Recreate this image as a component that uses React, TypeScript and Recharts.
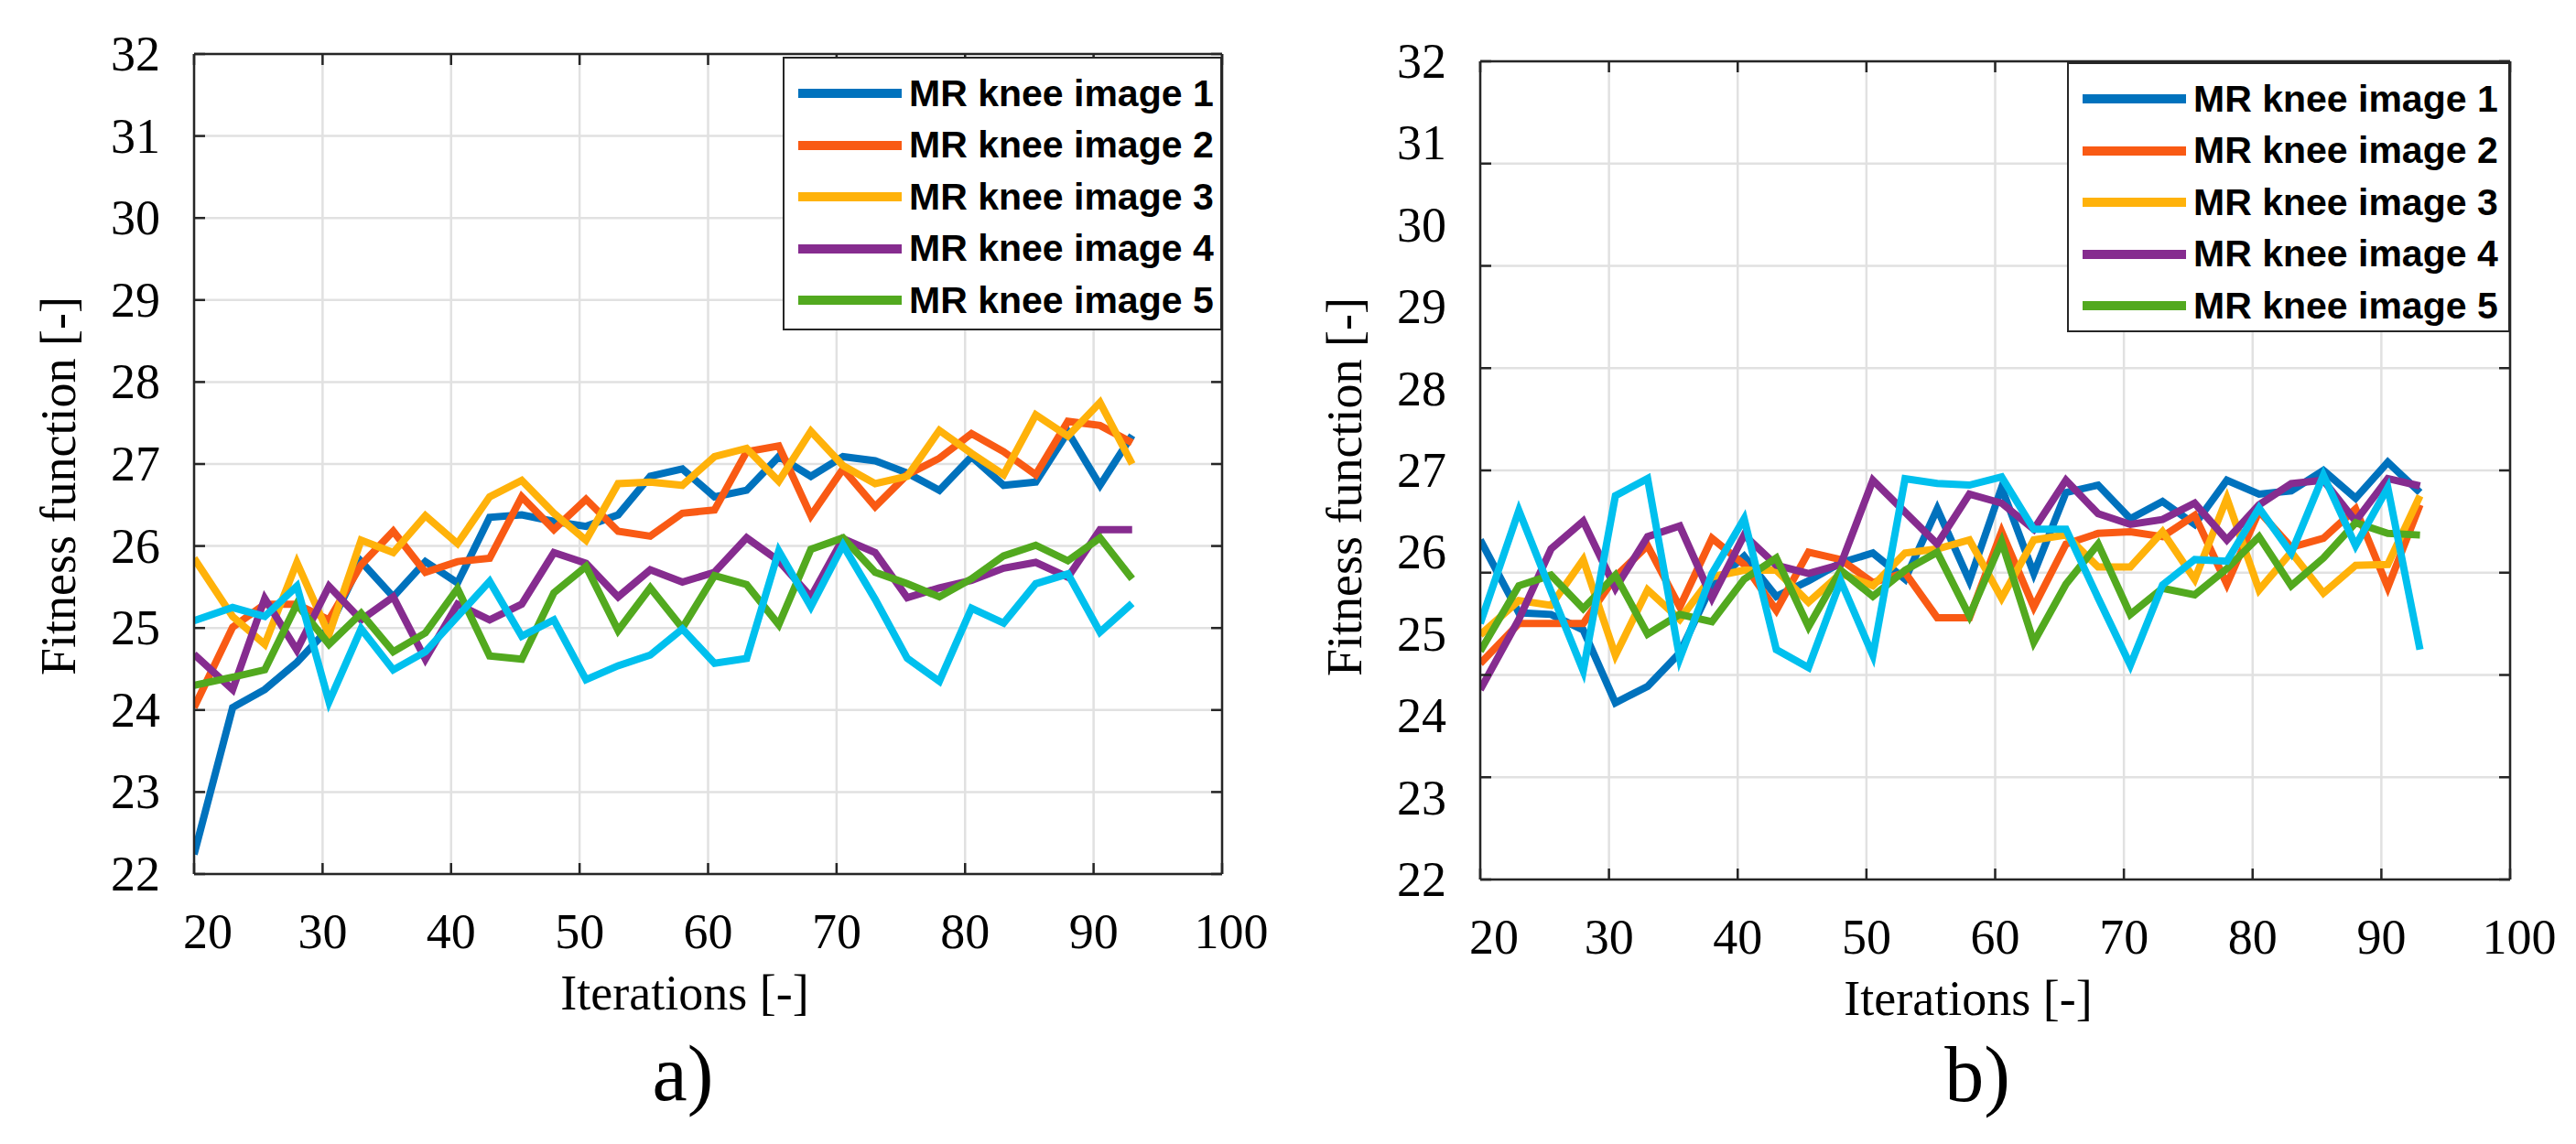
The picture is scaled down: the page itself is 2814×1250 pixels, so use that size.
import React from 'react';
import { LineChart, Line, XAxis, YAxis, CartesianGrid, Legend } from 'recharts';

const iterations = [20, 23, 25.5, 28, 30.5, 33, 35.5, 38, 40.5, 43, 45.5, 48, 50.5, 53, 55.5, 58, 60.5, 63, 65.5, 68, 70.5, 73, 75.5, 78, 80.5, 83, 85.5, 88, 90.5, 93];

const seriesNames = ['MR knee image 1', 'MR knee image 2', 'MR knee image 3', 'MR knee image 4', 'MR knee image 5', 'MR knee image 6'];
const seriesColors = ['#0072BD', '#F95A14', '#FFB20A', '#862C8F', '#52A91F', '#00C0EE'];
// the sixth (cyan) run is not listed in the legend
const legendNames = seriesNames.slice(0, 5);

// panel a)
const a1 = [22.24, 24.03, 24.25, 24.58, 25.0, 25.81, 25.38, 25.81, 25.55, 26.35, 26.38, 26.3, 26.24, 26.38, 26.85, 26.94, 26.6, 26.68, 27.09, 26.85, 27.09, 27.04, 26.89, 26.68, 27.09, 26.74, 26.78, 27.39, 26.74, 27.35];
const a2 = [24.03, 25.01, 25.29, 25.29, 25.1, 25.77, 26.18, 25.68, 25.81, 25.85, 26.6, 26.2, 26.57, 26.18, 26.12, 26.4, 26.44, 27.15, 27.22, 26.37, 26.94, 26.48, 26.87, 27.07, 27.37, 27.15, 26.87, 27.52, 27.47, 27.26];
const a3 = [25.85, 25.14, 24.8, 25.8, 24.92, 26.07, 25.92, 26.37, 26.03, 26.6, 26.8, 26.4, 26.07, 26.76, 26.78, 26.74, 27.09, 27.19, 26.79, 27.4, 26.98, 26.76, 26.85, 27.41, 27.13, 26.87, 27.6, 27.34, 27.75, 27.0];
const a4 = [24.68, 24.25, 25.36, 24.73, 25.51, 25.1, 25.38, 24.62, 25.29, 25.1, 25.29, 25.92, 25.79, 25.38, 25.71, 25.56, 25.68, 26.1, 25.82, 25.38, 26.09, 25.92, 25.37, 25.49, 25.58, 25.73, 25.8, 25.62, 26.2, 26.2];
const a5 = [24.3, 24.4, 24.49, 25.29, 24.8, 25.18, 24.71, 24.94, 25.48, 24.66, 24.62, 25.43, 25.75, 24.97, 25.49, 25.0, 25.64, 25.53, 25.04, 25.96, 26.1, 25.68, 25.54, 25.38, 25.6, 25.88, 26.01, 25.82, 26.1, 25.6];
const a6 = [25.09, 25.25, 25.14, 25.51, 24.1, 24.99, 24.49, 24.71, 25.14, 25.57, 24.9, 25.1, 24.37, 24.54, 24.67, 24.99, 24.57, 24.63, 25.94, 25.26, 26.01, 25.35, 24.63, 24.35, 25.24, 25.06, 25.54, 25.66, 24.95, 25.3];

// panel b)
const b1 = [26.15, 25.26, 25.24, 25.05, 24.16, 24.36, 24.77, 25.6, 25.95, 25.46, 25.65, 25.87, 25.99, 25.67, 26.53, 25.65, 26.79, 25.74, 26.73, 26.82, 26.41, 26.62, 26.34, 26.88, 26.71, 26.75, 27.0, 26.66, 27.1, 26.73];
const b2 = [24.64, 25.13, 25.13, 25.13, 25.7, 26.08, 25.33, 26.17, 25.85, 25.29, 26.0, 25.91, 25.63, 25.75, 25.2, 25.2, 26.25, 25.33, 26.1, 26.23, 26.25, 26.19, 26.45, 25.61, 26.5, 26.06, 26.17, 26.53, 25.57, 26.58];
const b3 = [24.99, 25.41, 25.35, 25.91, 24.74, 25.54, 25.18, 25.7, 25.78, 25.78, 25.39, 25.74, 25.59, 25.99, 26.04, 26.15, 25.44, 26.15, 26.21, 25.82, 25.82, 26.25, 25.67, 26.66, 25.54, 26.0, 25.5, 25.84, 25.85, 26.69];
const b4 = [24.32, 25.18, 26.04, 26.38, 25.56, 26.19, 26.32, 25.44, 26.21, 25.84, 25.74, 25.85, 26.88, 26.49, 26.1, 26.71, 26.6, 26.28, 26.88, 26.47, 26.34, 26.4, 26.6, 26.15, 26.58, 26.84, 26.88, 26.38, 26.9, 26.81];
const b5 = [24.79, 25.59, 25.72, 25.31, 25.72, 25.0, 25.24, 25.15, 25.67, 25.93, 25.09, 25.78, 25.46, 25.78, 26.0, 25.22, 26.13, 24.9, 25.61, 26.1, 25.24, 25.56, 25.48, 25.8, 26.19, 25.59, 25.93, 26.36, 26.23, 26.21];
const b6 = [25.13, 26.51, 25.52, 24.55, 26.69, 26.9, 24.7, 25.74, 26.41, 24.81, 24.59, 25.65, 24.74, 26.9, 26.84, 26.82, 26.92, 26.28, 26.28, 25.44, 24.62, 25.6, 25.91, 25.89, 26.54, 25.99, 26.94, 26.08, 26.79, 24.81];

const xTicks = [20, 30, 40, 50, 60, 70, 80, 90, 100];
const yTicks = [22, 23, 24, 25, 26, 27, 28, 29, 30, 31, 32];
// panel b) has its grid on a different spacing than its tick labels
const gridTicksB = [22, 23.25, 24.5, 25.75, 27, 28.25, 29.5, 30.75, 32];

const SERIF = '"Liberation Serif", "Times New Roman", serif';
const SANS = '"Liberation Sans", Arial, sans-serif';
const AXIS_COLOR = '#262626';
const GRID_COLOR = '#e1e1e1';
const TICK_LEN = 12;

const toRows = (cols: number[][]) =>
  iterations.map((it, i) => {
    const row: Record<string, number> = { it };
    cols.forEach((c, k) => {
      row['s' + (k + 1)] = c[i];
    });
    return row;
  });

const rowsA = toRows([a1, a2, a3, a4, a5, a6]);
const rowsB = toRows([b1, b2, b3, b4, b5, b6]);

const bottomTick = (props: any) => {
  const { x, y, payload } = props;
  const shift = payload.value === 20 ? 15 : payload.value === 100 ? 10 : 0;
  return (
    <g>
      <line x1={x} y1={y} x2={x} y2={y - TICK_LEN} stroke={AXIS_COLOR} strokeWidth={2.5} />
      <text x={x + shift} y={y + 81} textAnchor="middle" fontFamily={SERIF} fontSize={54} fill="#000">
        {payload.value}
      </text>
    </g>
  );
};

const topTick = (props: any) => {
  const { x, y } = props;
  return <line x1={x} y1={y} x2={x} y2={y + TICK_LEN} stroke={AXIS_COLOR} strokeWidth={2.5} />;
};

const leftTick = (withMark: boolean) => (props: any) => {
  const { x, y, payload } = props;
  return (
    <g>
      {withMark && <line x1={x} y1={y} x2={x + TICK_LEN} y2={y} stroke={AXIS_COLOR} strokeWidth={2.5} />}
      <text x={x - 37} y={y + 18} textAnchor="end" fontFamily={SERIF} fontSize={54} fill="#000">
        {payload.value}
      </text>
    </g>
  );
};

const rightTick = (plotW: number, mirrorLeft: boolean) => (props: any) => {
  const { x, y } = props;
  return (
    <g>
      <line x1={x} y1={y} x2={x - TICK_LEN} y2={y} stroke={AXIS_COLOR} strokeWidth={2.5} />
      {mirrorLeft && <line x1={x - plotW} y1={y} x2={x - plotW + TICK_LEN} y2={y} stroke={AXIS_COLOR} strokeWidth={2.5} />}
    </g>
  );
};

const LegendBox = ({ payload, width, height }: any) => {
  const entries = (payload || []).filter((e: any) => legendNames.includes(e.value));
  return (
    <div
      style={{
        position: 'relative',
        width,
        height,
        boxSizing: 'border-box',
        border: `2.5px solid ${AXIS_COLOR}`,
        background: '#fff',
      }}
    >
      {entries.map((entry: any, i: number) => (
        <div
          key={entry.value}
          style={{
            position: 'absolute',
            left: 0,
            top: 38 + i * 56.5 - 25,
            height: 50,
            display: 'flex',
            alignItems: 'center',
          }}
        >
          <div style={{ marginLeft: 15, width: 113, height: 10, background: entry.color }} />
          <span style={{ marginLeft: 8, fontFamily: SANS, fontWeight: 700, fontSize: 41, color: '#000', whiteSpace: 'nowrap' }}>
            {entry.value}
          </span>
        </div>
      ))}
    </div>
  );
};

type PanelProps = {
  rows: Record<string, number>[];
  width: number;
  height: number;
  padLeft: number;
  padRight: number;
  padTop: number;
  padBottom: number;
  gridTicks: number[] | null;
  legend: { left: number; top: number; width: number; height: number };
  yTitleX: number;
  yTitleY: number;
  xTitleX: number;
  xTitleY: number;
};

const Panel = ({ rows, width, height, padLeft, padRight, padTop, padBottom, gridTicks, legend, yTitleX, yTitleY, xTitleX, xTitleY }: PanelProps) => {
  const plotW = width - padLeft - padRight;
  const axisStyle = { stroke: AXIS_COLOR, strokeWidth: 2.5 };
  return (
    <LineChart width={width} height={height} data={rows} margin={{ top: 0, right: 0, bottom: 0, left: 0 }}>
      <CartesianGrid xAxisId="b" yAxisId={gridTicks ? 'r' : 'l'} stroke={GRID_COLOR} strokeWidth={2.5} />
      <XAxis
        xAxisId="b"
        dataKey="it"
        type="number"
        domain={[20, 100]}
        allowDataOverflow
        ticks={xTicks}
        interval={0}
        height={padBottom}
        tickSize={0}
        tickMargin={0}
        tickLine={false}
        axisLine={axisStyle}
        tick={bottomTick}
        label={{
          value: 'Iterations [-]',
          content: (p: any) => (
            <text x={xTitleX} y={xTitleY} textAnchor="middle" fontFamily={SERIF} fontSize={54} fill="#000">
              {p.value}
            </text>
          ),
        }}
      />
      <XAxis
        xAxisId="t"
        orientation="top"
        dataKey="it"
        type="number"
        domain={[20, 100]}
        allowDataOverflow
        ticks={xTicks}
        interval={0}
        height={padTop}
        tickSize={0}
        tickMargin={0}
        tickLine={false}
        axisLine={axisStyle}
        tick={topTick}
      />
      <YAxis
        yAxisId="l"
        type="number"
        domain={[22, 32]}
        allowDataOverflow
        ticks={yTicks}
        interval={0}
        width={padLeft}
        tickSize={0}
        tickMargin={0}
        tickLine={false}
        axisLine={axisStyle}
        tick={leftTick(!gridTicks)}
        label={{
          value: 'Fitness function [-]',
          content: (p: any) => (
            <text
              transform={`translate(${yTitleX} ${yTitleY}) rotate(-90)`}
              textAnchor="middle"
              fontFamily={SERIF}
              fontSize={54}
              fill="#000"
            >
              {p.value}
            </text>
          ),
        }}
      />
      <YAxis
        yAxisId="r"
        orientation="right"
        type="number"
        domain={[22, 32]}
        allowDataOverflow
        ticks={gridTicks || yTicks}
        interval={0}
        width={padRight}
        tickSize={0}
        tickMargin={0}
        tickLine={false}
        axisLine={axisStyle}
        tick={rightTick(plotW, !!gridTicks)}
      />
      <Legend
        layout="vertical"
        align="center"
        verticalAlign="middle"
        wrapperStyle={{ left: legend.left, top: legend.top, width: legend.width, height: legend.height }}
        content={(props: any) => <LegendBox payload={props.payload} width={legend.width} height={legend.height} />}
      />
      {seriesNames.map((name, k) => (
        <Line
          key={name}
          xAxisId="b"
          yAxisId="l"
          type="linear"
          dataKey={'s' + (k + 1)}
          name={name}
          stroke={seriesColors[k]}
          strokeWidth={8}
          dot={false}
          activeDot={false}
          legendType={legendNames.includes(name) ? 'line' : 'none'}
          isAnimationActive={false}
        />
      ))}
    </LineChart>
  );
};

export default function App() {
  return (
    <div style={{ position: 'absolute', left: 0, top: 0, width: 2814, height: 1250, background: '#fff', overflow: 'hidden' }}>
      <div style={{ position: 'absolute', left: 0, top: 0 }}>
        <Panel
          rows={rowsA}
          width={1400}
          height={1250}
          padLeft={212}
          padRight={65}
          padTop={59}
          padBottom={295}
          gridTicks={null}
          legend={{ left: 855, top: 62, width: 480, height: 299 }}
          yTitleX={82}
          yTitleY={531}
          xTitleX={748}
          xTitleY={1103}
        />
      </div>
      <div style={{ position: 'absolute', left: 1400, top: 0 }}>
        <Panel
          rows={rowsB}
          width={1414}
          height={1250}
          padLeft={217}
          padRight={72}
          padTop={67}
          padBottom={289}
          gridTicks={gridTicksB}
          legend={{ left: 858, top: 68, width: 484, height: 295 }}
          yTitleX={87}
          yTitleY={532}
          xTitleX={750}
          xTitleY={1109}
        />
      </div>
      <svg width={2814} height={1250} style={{ position: 'absolute', left: 0, top: 0, pointerEvents: 'none' }}>
        <text x={746} y={1202} textAnchor="middle" fontFamily={SERIF} fontSize={86} fill="#000">a)</text>
        <text x={2160} y={1203} textAnchor="middle" fontFamily={SERIF} fontSize={86} fill="#000">b)</text>
      </svg>
    </div>
  );
}
